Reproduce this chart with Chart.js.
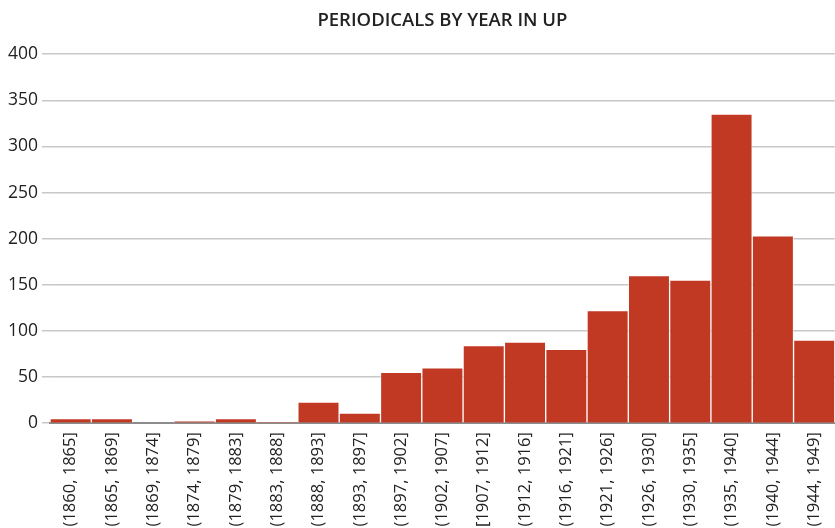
<!DOCTYPE html>
<html>
<head>
<meta charset="utf-8">
<script src="https://cdn.jsdelivr.net/npm/chart.js@4"></script>
<style>
  body { margin: 0; background: #fff; }
  #wrap { width: 835px; height: 528px; }
</style>
</head>
<body>
<div id="wrap"><canvas id="c"></canvas></div>
<script>
const labels = ['(1860, 1865]', '(1865, 1869]', '(1869, 1874]', '(1874, 1879]', '(1879, 1883]',
                '(1883, 1888]', '(1888, 1893]', '(1893, 1897]', '(1897, 1902]', '(1902, 1907]',
                '[1907, 1912]', '(1912, 1916]', '(1916, 1921]', '(1921, 1926]', '(1926, 1930]',
                '(1930, 1935]', '(1935, 1940]', '(1940, 1944]', '(1944, 1949]'];
const counts = [5, 5, 0, 2, 5, 1, 23, 11, 55, 60, 84, 88, 80, 122, 160, 155, 335, 203, 90];
const yTicks = [0, 50, 100, 150, 200, 250, 300, 350, 400];

const barColor = 'rgb(194, 57, 35)';
const font = "'Open Sans', sans-serif";

new Chart(document.getElementById('c'), {
  type: 'bar',
  data: {
    labels: labels,
    datasets: [{
      data: counts,
      backgroundColor: barColor,
      borderColor: 'rgba(255, 255, 255, 0.55)',
      borderWidth: 1,
      borderSkipped: 'bottom',
      barPercentage: 1,
      categoryPercentage: 1
    }]
  },
  options: {
    responsive: true,
    maintainAspectRatio: false,
    animation: false,
    layout: { padding: { top: 10, right: -8, left: 4, bottom: 0 } },
    plugins: {
      legend: { display: false },
      tooltip: { enabled: false },
      title: {
        display: true,
        fullSize: false,
        text: 'PERIODICALS BY YEAR IN UP',
        color: '#222',
        font: { family: font, size: 18.5, weight: '600' },
        padding: { top: 0, bottom: 22 }
      }
    },
    scales: {
      x: {
        grid: { display: false },
        border: { color: '#8c8c8c', width: 2 },
        ticks: {
          color: '#222',
          font: { family: font, size: 16.5 },
          minRotation: 90,
          maxRotation: 90,
          autoSkip: false,
          padding: 1
        }
      },
      y: {
        min: 0,
        max: 400,
        afterBuildTicks: axis => { axis.ticks = yTicks.map(v => ({ value: v })); },
        border: { display: false },
        grid: { color: '#c8c8c8', lineWidth: 1.5, tickLength: 8 },
        ticks: {
          color: '#222',
          font: { family: font, size: 17.5 },
          padding: 4
        }
      }
    }
  }
});
</script>
</body>
</html>
